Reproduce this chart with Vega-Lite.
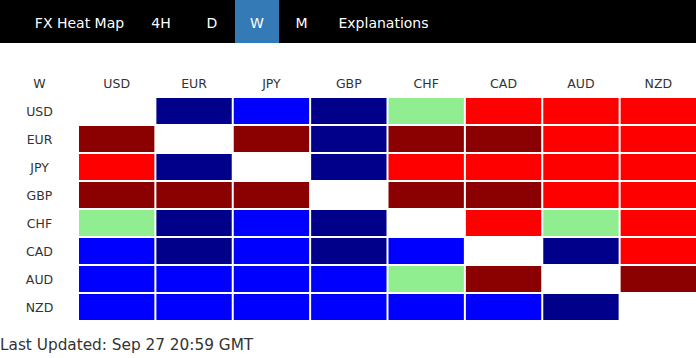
{
  "$schema": "https://vega.github.io/schema/vega-lite/v6.json",
  "padding": 0,
  "background": "#ffffff",
  "config": {"view": {"stroke": null}, "font": "DejaVu Sans"},
  "spacing": 0,
  "vconcat": [
    {
      "spacing": 0,
      "hconcat": [
        {"width": 139, "height": 43, "view": {"fill": "#000000", "stroke": null},
         "data": {"values": [{"item": "FX Heat Map"}]},
         "mark": {"type": "text", "color": "#ffffff", "fontSize": 14, "align": "center", "baseline": "alphabetic", "dy": 6.5, "dx": 10},
         "encoding": {"text": {"field": "item"}}},
        {"width": 44, "height": 43, "view": {"fill": "#000000", "stroke": null},
         "data": {"values": [{"item": "4H"}]},
         "mark": {"type": "text", "color": "#ffffff", "fontSize": 14, "align": "center", "baseline": "alphabetic", "dy": 6.5},
         "encoding": {"text": {"field": "item"}}},
        {"width": 52, "height": 43, "view": {"fill": "#000000", "stroke": null},
         "data": {"values": [{"item": "D"}]},
         "mark": {"type": "text", "color": "#ffffff", "fontSize": 14, "align": "center", "baseline": "alphabetic", "dy": 6.5, "dx": 3},
         "encoding": {"text": {"field": "item"}}},
        {"width": 44, "height": 43, "view": {"fill": "#337ab7", "stroke": null},
         "data": {"values": [{"item": "W"}]},
         "mark": {"type": "text", "color": "#ffffff", "fontSize": 14, "align": "center", "baseline": "alphabetic", "dy": 6.5},
         "encoding": {"text": {"field": "item"}}},
        {"width": 45, "height": 43, "view": {"fill": "#000000", "stroke": null},
         "data": {"values": [{"item": "M"}]},
         "mark": {"type": "text", "color": "#ffffff", "fontSize": 14, "align": "center", "baseline": "alphabetic", "dy": 6.5},
         "encoding": {"text": {"field": "item"}}},
        {"width": 372, "height": 43, "view": {"fill": "#000000", "stroke": null},
         "data": {"values": [{"item": "Explanations"}]},
         "mark": {"type": "text", "color": "#ffffff", "fontSize": 14, "align": "center", "baseline": "alphabetic", "dy": 6.5, "dx": -126.5},
         "encoding": {"text": {"field": "item"}}}
      ]
    },
    {
      "spacing": 0,
      "hconcat": [
        {"width": 79, "height": 55,
         "data": {"values": [{"label": "W"}]},
         "mark": {"type": "text", "fontSize": 12.5, "color": "#333333", "align": "center", "baseline": "alphabetic", "dy": 17},
         "encoding": {"text": {"field": "label"}}},
        {"width": 617, "height": 55,
         "data": {"values": [{"col": "USD"}, {"col": "EUR"}, {"col": "JPY"}, {"col": "GBP"}, {"col": "CHF"}, {"col": "CAD"}, {"col": "AUD"}, {"col": "NZD"}]},
         "mark": {"type": "text", "fontSize": 12.5, "color": "#333333", "align": "center", "baseline": "alphabetic", "dy": 17},
         "encoding": {
           "x": {"field": "col", "type": "nominal", "sort": ["USD", "EUR", "JPY", "GBP", "CHF", "CAD", "AUD", "NZD"],
                 "scale": {"type": "band", "paddingInner": 0.026, "paddingOuter": 0}, "axis": null},
           "text": {"field": "col"}
         }}
      ]
    },
    {
      "spacing": 0,
      "hconcat": [
        {
          "width": 79, "height": 222,
          "data": {"values": [{"row": "USD"}, {"row": "EUR"}, {"row": "JPY"}, {"row": "GBP"}, {"row": "CHF"}, {"row": "CAD"}, {"row": "AUD"}, {"row": "NZD"}]},
          "mark": {"type": "text", "fontSize": 12.5, "color": "#333333", "baseline": "alphabetic", "dy": 5, "align": "center"},
          "encoding": {
            "y": {"field": "row", "type": "nominal", "sort": ["USD", "EUR", "JPY", "GBP", "CHF", "CAD", "AUD", "NZD"],
                  "scale": {"type": "band", "paddingInner": 0.0714, "paddingOuter": 0}, "axis": null},
            "text": {"field": "row"}
          }
        },
        {
          "width": 617, "height": 222,
          "data": {"values": [
            {"row": "USD", "col": "EUR", "level": 2}, {"row": "USD", "col": "JPY", "level": 1}, {"row": "USD", "col": "GBP", "level": 2}, {"row": "USD", "col": "CHF", "level": 0}, {"row": "USD", "col": "CAD", "level": -1}, {"row": "USD", "col": "AUD", "level": -1}, {"row": "USD", "col": "NZD", "level": -1},
            {"row": "EUR", "col": "USD", "level": -2}, {"row": "EUR", "col": "JPY", "level": -2}, {"row": "EUR", "col": "GBP", "level": 2}, {"row": "EUR", "col": "CHF", "level": -2}, {"row": "EUR", "col": "CAD", "level": -2}, {"row": "EUR", "col": "AUD", "level": -1}, {"row": "EUR", "col": "NZD", "level": -1},
            {"row": "JPY", "col": "USD", "level": -1}, {"row": "JPY", "col": "EUR", "level": 2}, {"row": "JPY", "col": "GBP", "level": 2}, {"row": "JPY", "col": "CHF", "level": -1}, {"row": "JPY", "col": "CAD", "level": -1}, {"row": "JPY", "col": "AUD", "level": -1}, {"row": "JPY", "col": "NZD", "level": -1},
            {"row": "GBP", "col": "USD", "level": -2}, {"row": "GBP", "col": "EUR", "level": -2}, {"row": "GBP", "col": "JPY", "level": -2}, {"row": "GBP", "col": "CHF", "level": -2}, {"row": "GBP", "col": "CAD", "level": -2}, {"row": "GBP", "col": "AUD", "level": -1}, {"row": "GBP", "col": "NZD", "level": -1},
            {"row": "CHF", "col": "USD", "level": 0}, {"row": "CHF", "col": "EUR", "level": 2}, {"row": "CHF", "col": "JPY", "level": 1}, {"row": "CHF", "col": "GBP", "level": 2}, {"row": "CHF", "col": "CAD", "level": -1}, {"row": "CHF", "col": "AUD", "level": 0}, {"row": "CHF", "col": "NZD", "level": -1},
            {"row": "CAD", "col": "USD", "level": 1}, {"row": "CAD", "col": "EUR", "level": 2}, {"row": "CAD", "col": "JPY", "level": 1}, {"row": "CAD", "col": "GBP", "level": 2}, {"row": "CAD", "col": "CHF", "level": 1}, {"row": "CAD", "col": "AUD", "level": 2}, {"row": "CAD", "col": "NZD", "level": -1},
            {"row": "AUD", "col": "USD", "level": 1}, {"row": "AUD", "col": "EUR", "level": 1}, {"row": "AUD", "col": "JPY", "level": 1}, {"row": "AUD", "col": "GBP", "level": 1}, {"row": "AUD", "col": "CHF", "level": 0}, {"row": "AUD", "col": "CAD", "level": -2}, {"row": "AUD", "col": "NZD", "level": -2},
            {"row": "NZD", "col": "USD", "level": 1}, {"row": "NZD", "col": "EUR", "level": 1}, {"row": "NZD", "col": "JPY", "level": 1}, {"row": "NZD", "col": "GBP", "level": 1}, {"row": "NZD", "col": "CHF", "level": 1}, {"row": "NZD", "col": "CAD", "level": 1}, {"row": "NZD", "col": "AUD", "level": 2}
          ]},
          "mark": {"type": "rect", "strokeWidth": 0},
          "encoding": {
            "x": {"field": "col", "type": "nominal", "sort": ["USD", "EUR", "JPY", "GBP", "CHF", "CAD", "AUD", "NZD"],
                  "scale": {"type": "band", "paddingInner": 0.026, "paddingOuter": 0}, "axis": null},
            "y": {"field": "row", "type": "nominal", "sort": ["USD", "EUR", "JPY", "GBP", "CHF", "CAD", "AUD", "NZD"],
                  "scale": {"type": "band", "paddingInner": 0.0714, "paddingOuter": 0}, "axis": null},
            "color": {"field": "level", "type": "ordinal",
                      "scale": {"domain": [-2, -1, 0, 1, 2], "range": ["#8b0000", "#ff0000", "#90ee90", "#0000ff", "#00008b"]},
                      "legend": null}
          }
        }
      ]
    },
    {
      "width": 696, "height": 38,
      "data": {"values": [{"note": "Last Updated: Sep 27 20:59 GMT"}]},
      "mark": {"type": "text", "align": "left", "baseline": "alphabetic", "dy": 11, "fontSize": 15.3, "color": "#333333"},
      "encoding": {
        "x": {"datum": 0, "type": "quantitative", "scale": {"domain": [0, 1]}, "axis": null},
        "text": {"field": "note"}
      }
    }
  ]
}
